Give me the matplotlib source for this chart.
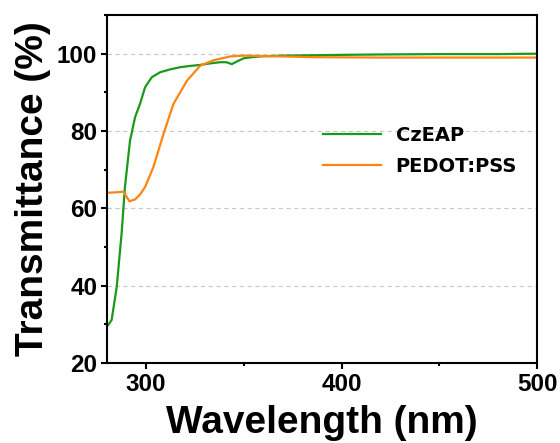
import matplotlib

matplotlib.use("Agg")
import matplotlib.pyplot as plt
from matplotlib.ticker import MultipleLocator

# values
czeap_wl = [280.0, 280.7, 282.4, 285.0, 287.5, 289.2, 291.8, 294.4, 296.9, 299.5,
            302.9, 307.2, 312.0, 317.4, 322.0, 327.7, 333.0, 337.9, 341.0, 343.9,
            346.5, 349.9, 354.0, 358.5, 370.0, 385.8, 400.0, 420.0, 450.0, 480.0, 500.0]
czeap_t = [29.5, 29.8, 31.1, 39.7, 53.5, 65.5, 77.5, 83.6, 87.0, 91.3,
           93.9, 95.2, 95.9, 96.5, 96.8, 97.1, 97.5, 97.8, 97.8, 97.3,
           98.0, 98.8, 99.1, 99.3, 99.5, 99.6, 99.7, 99.8, 99.9, 99.9, 100.0]

pedot_wl = [280.0, 284.0, 288.4, 291.5, 294.4, 297.0, 299.5, 303.7, 308.9, 314.0,
            320.9, 327.7, 334.5, 343.1, 350.0, 360.0, 385.8, 420.0, 460.0, 500.0]
pedot_t = [64.0, 64.1, 64.3, 61.8, 62.3, 63.6, 65.5, 70.6, 79.2, 87.0,
           93.0, 96.9, 98.3, 99.3, 99.5, 99.4, 99.1, 99.0, 99.0, 99.0]

x_ticks = [300, 400, 500]
y_ticks = [20, 40, 60, 80, 100]

plt.rcParams["font.family"] = ["Liberation Sans", "DejaVu Sans"]

fig = plt.figure(figsize=(5.6, 4.43), dpi=100)
ax = fig.add_axes([0.191, 0.181, 0.768, 0.785])

ax.plot(czeap_wl, czeap_t, color="#1a9a1a", linewidth=1.6, label="CzEAP")
ax.plot(pedot_wl, pedot_t, color="#ff8410", linewidth=1.6, label="PEDOT:PSS")

ax.set_xlim(280, 500)
ax.set_ylim(20, 110)
ax.set_xticks(x_ticks)
ax.set_yticks(y_ticks)
ax.xaxis.set_minor_locator(MultipleLocator(50))
ax.yaxis.set_minor_locator(MultipleLocator(10))
ax.tick_params(which="major", direction="out", length=4, width=1.5, labelsize=17.5, pad=3)
ax.tick_params(which="minor", direction="out", length=2.5, width=1.5)
for label in ax.get_xticklabels() + ax.get_yticklabels():
    label.set_fontweight("bold")
for spine in ax.spines.values():
    spine.set_linewidth(1.5)

ax.grid(True, axis="y", which="major", color="#c8c8c8", linestyle=(0, (4, 3)), linewidth=0.8)

ax.set_xlabel("Wavelength (nm)", fontsize=28, fontweight="bold", labelpad=7)
ax.set_ylabel("Transmittance (%)", fontsize=28, fontweight="bold", labelpad=4)

ax.legend(loc="center left", bbox_to_anchor=(0.461, 0.609), frameon=False,
          prop={"family": "DejaVu Sans", "weight": "bold", "size": 14},
          handlelength=3.0, handletextpad=0.75, labelspacing=0.62)

fig.savefig("out.png", dpi=100)
